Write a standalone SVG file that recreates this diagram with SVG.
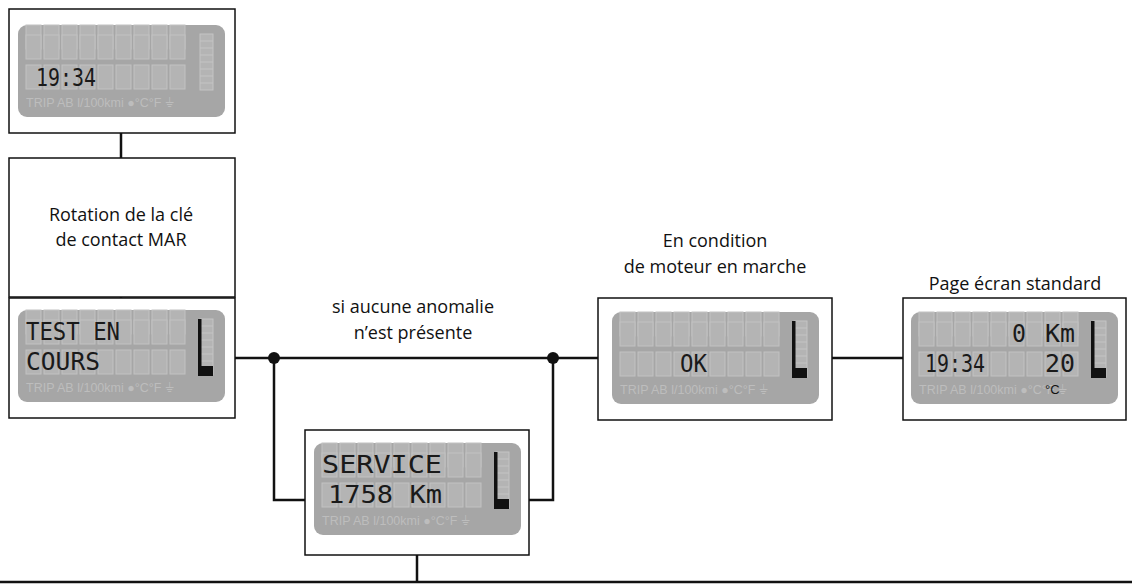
<svg xmlns="http://www.w3.org/2000/svg" xmlns:xlink="http://www.w3.org/1999/xlink" width="1132" height="584" viewBox="0 0 1132 584">
<style>
.box{fill:#fff;stroke:#111;stroke-width:1.5}
.ln{fill:none;stroke:#111;stroke-width:2.5}
.lbl{font-family:"Open Sans","Lato","Liberation Sans",sans-serif;font-size:18px;fill:#111;text-anchor:middle}
.cell{fill:#b4b4b4;stroke:#c2c2c2;stroke-width:1}
.small{font-family:"Liberation Sans",sans-serif;font-size:12.5px;fill:#bdbdbd}
.dig{font-family:"DejaVu Sans Mono",monospace;font-size:24px;fill:#1a1a1a}
</style>
<defs>
<g id="lcd">
<rect x="0" y="0" width="207" height="92" rx="9" fill="#a6a6a6"/>
<g id="row">
<rect class="cell" x="8" y="0" width="15" height="24"/>
<rect class="cell" x="26" y="0" width="15" height="24"/>
<rect class="cell" x="44" y="0" width="15" height="24"/>
<rect class="cell" x="62" y="0" width="15" height="24"/>
<rect class="cell" x="80" y="0" width="15" height="24"/>
<rect class="cell" x="98" y="0" width="15" height="24"/>
<rect class="cell" x="116" y="0" width="15" height="24"/>
<rect class="cell" x="134" y="0" width="15" height="24"/>
<rect class="cell" x="152" y="0" width="15" height="24"/>
</g>
<use xlink:href="#row" y="10"/>
<use xlink:href="#row" y="40"/>
<rect x="182" y="9" width="13" height="56" fill="#b4b4b4" stroke="#c4c4c4"/>
<path d="M182 16H195M182 23H195M182 30H195M182 37H195M182 44H195M182 51H195M182 58H195" stroke="#c4c4c4"/>
<text class="small" x="8" y="82">TRIP AB l/100kmi  ●°C°F  ⏚</text>
</g>
<g id="bar">
<rect x="180" y="9" width="3.5" height="57" fill="#111"/>
<rect x="183" y="56" width="12" height="10" fill="#111"/>
</g>
</defs>

<g id="connectors">
<path class="ln" d="M121 133V158M121 297V300M235 358H598M832 358H903M274 358V500H305M529 500H553V358M417 555V582M0 582H1132"/>
<circle cx="274" cy="358" r="6" fill="#111"/>
<circle cx="553" cy="358" r="6" fill="#111"/>
</g>

<g id="n1">
<rect class="box" x="9" y="9" width="226" height="124"/>
<use xlink:href="#lcd" transform="translate(18,25)"/>
<text class="dig" x="36" y="86" textLength="60" lengthAdjust="spacingAndGlyphs">19:34</text>
</g>

<g id="n2">
<rect class="box" x="9" y="158" width="226" height="139"/>
<text class="lbl" x="121" y="221">Rotation de la clé</text>
<text class="lbl" x="121" y="246">de contact MAR</text>
</g>

<g id="n3">
<rect class="box" x="9" y="298" width="226" height="120"/>
<use xlink:href="#lcd" transform="translate(18,310)"/>
<use xlink:href="#bar" transform="translate(18,310)"/>
<text class="dig" x="26" y="340" textLength="94" lengthAdjust="spacingAndGlyphs">TEST EN</text>
<text class="dig" x="26" y="370" textLength="74" lengthAdjust="spacingAndGlyphs">COURS</text>
</g>

<g id="n4">
<rect class="box" x="598" y="298" width="234" height="122"/>
<use xlink:href="#lcd" transform="translate(612,312)"/>
<use xlink:href="#bar" transform="translate(612,312)"/>
<text class="dig" x="680" y="372" textLength="27" lengthAdjust="spacingAndGlyphs">OK</text>
<text class="lbl" x="715" y="247">En condition</text>
<text class="lbl" x="715" y="273">de moteur en marche</text>
</g>

<g id="n5">
<rect class="box" x="903" y="298" width="223" height="122"/>
<use xlink:href="#lcd" transform="translate(911,312)"/>
<use xlink:href="#bar" transform="translate(911,312)"/>
<text class="dig" x="1012" y="342" textLength="14" lengthAdjust="spacingAndGlyphs">0</text>
<text class="dig" x="1045" y="342" textLength="30" lengthAdjust="spacingAndGlyphs">Km</text>
<text class="dig" x="925" y="372" textLength="60" lengthAdjust="spacingAndGlyphs">19:34</text>
<text class="dig" x="1045" y="372" textLength="30" lengthAdjust="spacingAndGlyphs">20</text>
<text x="1045" y="394" font-family="Liberation Sans,sans-serif" font-size="13" fill="#111">°C</text>
<text class="lbl" x="1015" y="290">Page écran standard</text>
</g>

<g id="n6">
<rect class="box" x="305" y="430" width="224" height="125"/>
<use xlink:href="#lcd" transform="translate(314,443)"/>
<use xlink:href="#bar" transform="translate(314,443)"/>
<text class="dig" x="322" y="473" textLength="120" lengthAdjust="spacingAndGlyphs">SERVICE</text>
<text class="dig" x="328" y="503" textLength="114" lengthAdjust="spacingAndGlyphs">1758 Km</text>
</g>

<g id="n7">
<text class="lbl" x="413" y="313">si aucune anomalie</text>
<text class="lbl" x="413" y="339">n’est présente</text>
</g>
</svg>
